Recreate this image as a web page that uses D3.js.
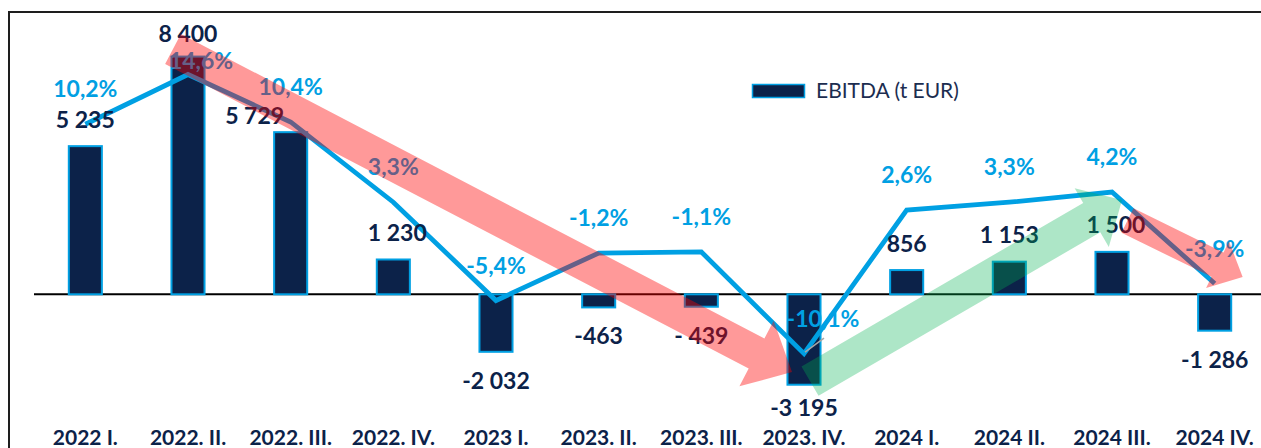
<!DOCTYPE html>
<html>
<head>
<meta charset="utf-8">
<script src="https://cdn.jsdelivr.net/npm/d3@7"></script>
<style>
  html, body { margin: 0; padding: 0; background: #fff; }
  svg { display: block; }
</style>
</head>
<body>
<div id="chart"></div>
<script>
// ---- data ----
const categories = ["2022 I.", "2022. II.", "2022. III.", "2022. IV.", "2023 I.", "2023. II.", "2023. III.", "2023. IV.", "2024 I.", "2024 II.", "2024 III.", "2024 IV."];
const ebitda = [5235, 8400, 5729, 1230, -2032, -463, -439, -3195, 856, 1153, 1500, -1286];
const ebitdaLabels = ["5 235", "8 400", "5 729", "1 230", "-2 032", "-463", "- 439", "-3 195", "856", "1 153", "1 500", "-1 286"];
const margin = [10.2, 14.6, 10.4, 3.3, -5.4, -1.2, -1.1, -10.1, 2.6, 3.3, 4.2, -3.9];
const marginLabels = ["10,2%", "14,6%", "10,4%", "3,3%", "-5,4%", "-1,2%", "-1,1%", "-10,1%", "2,6%", "3,3%", "4,2%", "-3,9%"];
const legendLabel = "EBITDA (t EUR)";

// ---- drawing ----
const W = 1261, H = 448;
const NAVY = "#0c2249", BLUE = "#00a0e3";
const FONT = "Lato, 'Open Sans', sans-serif";

const svg = d3.select("#chart").append("svg").attr("width", W).attr("height", H);
svg.append("rect").attr("width", W).attr("height", H).attr("fill", "#fff");

// frame
svg.append("path")
  .attr("d", `M9,${H + 5} V12 H${W + 5}`)
  .attr("fill", "none").attr("stroke", "#1e1e1e").attr("stroke-width", 2);

const x = d3.scaleBand().domain(categories).range([34, 1266]).paddingInner(0.678).paddingOuter(0.339);
const y = d3.scaleLinear().domain([-4000, 10000]).range([407.5, 11.3]);
const y2 = d3.scaleLinear().domain([-15, 20]).range([409, 13.5]);
const cx = c => x(c) + x.bandwidth() / 2;

// zero line
svg.append("line")
  .attr("x1", 34).attr("x2", W + 5)
  .attr("y1", y(0)).attr("y2", y(0))
  .attr("stroke", "#000").attr("stroke-width", 2);

// bars
svg.append("g").selectAll("rect").data(categories).join("rect")
  .attr("x", c => x(c))
  .attr("width", x.bandwidth())
  .attr("y", (c, i) => y(Math.max(0, ebitda[i])))
  .attr("height", (c, i) => Math.abs(y(ebitda[i]) - y(0)))
  .attr("fill", NAVY)
  .attr("stroke", BLUE).attr("stroke-width", 2);

// margin line
const line = d3.line().x((d, i) => cx(categories[i])).y(d => y2(d));
svg.append("path").datum(margin)
  .attr("d", line)
  .attr("fill", "none").attr("stroke", BLUE).attr("stroke-width", 4.8)
  .attr("stroke-linejoin", "miter");

// small leader line at -10,1%
{
  const i = 7, px = cx(categories[i]), py = y2(margin[i]);
  svg.append("line").attr("x1", px + 1).attr("y1", py - 1.5).attr("x2", px + 20).attr("y2", py - 15.5)
    .attr("stroke", "#a6a6a6").attr("stroke-width", 1.5);
}

// value labels
const valueNudge = { 1: [0, 4], 2: [-36, 10.5], 3: [4, 0], 7: [0, -6], 10: [4, 0] };
svg.append("g").selectAll("text").data(categories).join("text")
  .attr("x", (c, i) => cx(c) + (valueNudge[i] ? valueNudge[i][0] : 0))
  .attr("y", (c, i) => {
    const v = ebitda[i];
    const base = v >= 0 ? y(v) - 18.5 : y(v) + 37;
    return base + (valueNudge[i] ? valueNudge[i][1] : 0);
  })
  .attr("text-anchor", "middle")
  .attr("font-family", FONT).attr("font-weight", 700).attr("font-size", 23)
  .attr("fill", NAVY)
  .text((c, i) => ebitdaLabels[i]);

// margin labels
const marginNudge = { 1: [13, 21.5], 7: [19, 0] };
svg.append("g").selectAll("text").data(categories).join("text")
  .attr("x", (c, i) => cx(c) + (marginNudge[i] ? marginNudge[i][0] : 0))
  .attr("y", (c, i) => y2(margin[i]) - 27 + (marginNudge[i] ? marginNudge[i][1] : 0))
  .attr("text-anchor", "middle")
  .attr("font-family", FONT).attr("font-weight", 700).attr("font-size", 23)
  .attr("fill", BLUE)
  .text((c, i) => marginLabels[i]);

// x axis labels
const xAxis = d3.axisBottom(x).tickSize(0).tickPadding(0);
const gx = svg.append("g").call(xAxis);
gx.select(".domain").remove();
gx.selectAll(".tick text")
  .attr("y", 445).attr("dy", 0)
  .attr("font-family", FONT).attr("font-weight", 700).attr("font-size", 21)
  .attr("fill", NAVY);

// legend
svg.append("rect").attr("x", 752.5).attr("y", 84.5).attr("width", 52).attr("height", 13)
  .attr("fill", NAVY).attr("stroke", BLUE).attr("stroke-width", 1.5);
svg.append("text").attr("x", 816).attr("y", 97.5)
  .attr("font-family", FONT).attr("font-size", 21).attr("fill", "#1c2d50")
  .text(legendLabel);

// trend arrows (annotations anchored on the margin points)
function arrow(T, P, w, h, L) {
  const dx = P[0] - T[0], dy = P[1] - T[1], len = Math.hypot(dx, dy);
  const u = [dx / len, dy / len], n = [-u[1], u[0]];
  const B = [P[0] - L * u[0], P[1] - L * u[1]];
  const pt = (o, k) => [o[0] + k * n[0], o[1] + k * n[1]];
  return [pt(T, w), pt(B, w), pt(B, h), P, pt(B, -h), pt(B, -w), pt(T, -w)];
}
const mp = i => [cx(categories[i]), y2(margin[i])];
const arrows = [
  { from: mp(1), fo: [-15, -25.5], to: mp(7), to_: [-12, 18.4], w: 17, h: 37, L: 40, color: "#ff0000", op: 0.4 },
  { from: mp(7), fo: [6, 27.5], to: mp(10), to_: [10, 8], w: 17, h: 34, L: 35, color: "#00b050", op: 0.32 },
  { from: mp(10), fo: [15.5, 28.5], to: mp(11), to_: [28, -6.6], w: 13.6, h: 26, L: 28, color: "#ff0000", op: 0.4 }
];
svg.append("g").selectAll("path").data(arrows).join("path")
  .attr("d", a => {
    const T = [a.from[0] + a.fo[0], a.from[1] + a.fo[1]];
    const P = [a.to[0] + a.to_[0], a.to[1] + a.to_[1]];
    return "M" + arrow(T, P, a.w, a.h, a.L).map(p => p.join(",")).join("L") + "Z";
  })
  .attr("fill", a => a.color).attr("fill-opacity", a => a.op);
</script>
</body>
</html>
